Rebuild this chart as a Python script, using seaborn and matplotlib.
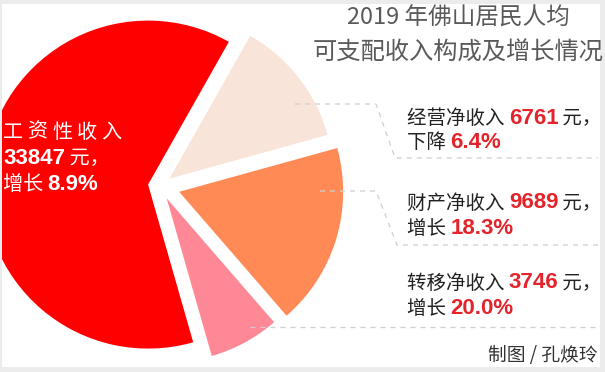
import matplotlib
matplotlib.use("Agg")
import matplotlib.pyplot as plt
import seaborn as sns
from matplotlib.patches import Rectangle

# ===============================
# Data
# ===============================

categories = ["经营净收入", "财产净收入", "转移净收入", "工资性收入"]
values = [6761, 9689, 3746, 33847]
change_words = ["下降", "增长", "增长", "增长"]
change_pct = ["6.4%", "18.3%", "20.0%", "8.9%"]

colors = ["#f9e4da", "#ff8a56", "#ff8897", "#ff0000"]

# ===============================
# Style
# ===============================

sns.set_theme(style="white")
plt.rcParams["font.family"] = ["Noto Sans CJK SC", "DejaVu Sans"]

fig = plt.figure(figsize=(6.05, 3.72), dpi=100)
fig.patch.set_facecolor("#ececec")
ax = fig.add_axes([0, 0, 1, 1])
ax.set_facecolor("#ececec")

# white card
card = Rectangle((2, 4), 598, 363, facecolor="white", edgecolor="none", zorder=0)
ax.add_patch(card)

# ===============================
# Pie (pixel coordinates, y down)
# ===============================

wedges, _ = ax.pie(
    values,
    colors=colors,
    explode=[12, 20, 14, 12],
    radius=164,
    center=(160, 186),
    startangle=-60.5,
    counterclock=True,
    wedgeprops=dict(linewidth=0),
)
for w in wedges:
    w.set_clip_on(True)
    w.set_clip_path(card)

ax.set_xlim(0, 605)
ax.set_ylim(372, 0)
ax.set_aspect("equal")
ax.axis("off")
ax.add_patch(Rectangle((0, 0), 605, 372, facecolor="#ececec", edgecolor="none", zorder=-1))

# ===============================
# Dashed guide lines
# ===============================

dash = dict(color="#cfcfcf", lw=0.9, ls=(0, (4, 4)), zorder=2)
ax.plot([295, 376, 395, 598], [104, 104, 158, 158], **dash)
ax.plot([320, 376, 397, 598], [191, 191, 245, 245], **dash)
ax.plot([250, 598], [327, 327], **dash)

# ===============================
# Text helpers
# ===============================

cjk = dict(fontsize=14, color="#222222")
num = dict(fontsize=16, color="#e3242b", fontweight="bold",
           family=["Liberation Sans", "DejaVu Sans"])


def rich_line(x, y, parts):
    t = ax.text(x, y, parts[0][0], va="center", ha="left", zorder=5, **parts[0][1])
    for s, kw in parts[1:]:
        t = ax.annotate(s, xy=(1, 0.5), xycoords=t, va="center", ha="left",
                        zorder=5, **kw)
    return t


# right labels
label_y = [118, 203, 283]
for i in range(3):
    y = label_y[i]
    rich_line(407, y, [(categories[i] + " ", cjk),
                       (f"{values[i]}", num),
                       (" 元，", cjk)])
    rich_line(407, y + 25, [(change_words[i] + " ", cjk),
                            (change_pct[i], num)])

# left label (wage income)
white_cjk = dict(fontsize=14.5, color="white")
white_num = dict(fontsize=16, color="white", fontweight="bold",
                 family=["Liberation Sans", "DejaVu Sans"])
for i, ch in enumerate(categories[3]):
    ax.text(3 + i * 24.5, 132, ch, va="center", ha="left", zorder=5, **white_cjk)
rich_line(3, 158, [(f"{values[3]}", white_num), (" 元，", white_cjk)])
rich_line(3, 185, [(change_words[3] + " ", white_cjk), (change_pct[3], white_num)])

# title
ax.text(458, 18, "2019 年佛山居民人均", ha="center", va="center",
        fontsize=17, color="#5a5a5a", zorder=5)
ax.text(458, 53, "可支配收入构成及增长情况", ha="center", va="center",
        fontsize=17.5, color="#5a5a5a", zorder=5)

# credit
ax.text(598, 356, "制图 / 孔焕玲", ha="right", va="center",
        fontsize=13.5, color="#333333", zorder=5)

fig.savefig("out.png", dpi=100, facecolor=fig.get_facecolor())
